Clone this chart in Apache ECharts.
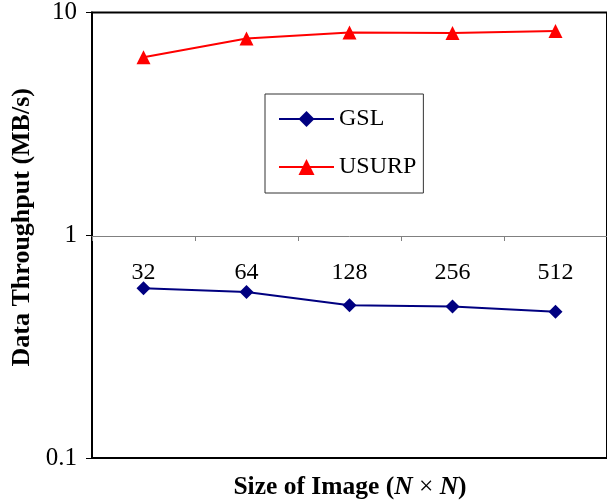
<!DOCTYPE html>
<html>
<head>
<meta charset="utf-8">
<style>html,body{margin:0;padding:0;background:#fff}#c{width:607px;height:503px}</style>
<script src="https://cdn.jsdelivr.net/npm/echarts@6/dist/echarts.min.js"></script>
</head>
<body>
<div id="c"></div>
<script>
const categories = ['32', '64', '128', '256', '512'];
const gslValues = [0.578, 0.556, 0.485, 0.479, 0.453];
const usurpValues = [6.3, 7.65, 8.13, 8.1, 8.26];
const yMin = 0.1, yMax = 10;

const serif = '"Liberation Serif", "Times New Roman", serif';
const chart = echarts.init(document.getElementById('c'), null, {renderer: 'canvas'});
chart.setOption({
  animation: false,
  backgroundColor: '#fff',
  title: {
    text: 'Size of Image ({i|N} {x|×} {i|N})',
    left: 350, top: 474, textAlign: 'center', padding: 0,
    textStyle: {
      fontFamily: serif, fontWeight: 'bold', fontSize: 25.5, color: '#000',
      rich: {
        i: { fontFamily: serif, fontWeight: 'bold', fontStyle: 'italic', fontSize: 25.5, color: '#000' },
        x: { fontFamily: serif, fontWeight: 'normal', fontSize: 25.5, color: '#000' }
      }
    }
  },
  legend: {
    orient: 'vertical', left: 265, top: 94,
    padding: [13, 7, 14, 13],
    itemGap: 24,
    itemWidth: 55, itemHeight: 20,
    backgroundColor: '#fff',
    borderColor: '#333', borderWidth: 1,
    textStyle: { fontFamily: serif, fontSize: 24, color: '#000' },
    data: ['GSL', 'USURP']
  },
  grid: { left: 92, right: -2, top: 12, bottom: 45, show: true, borderColor: '#000', borderWidth: 2, backgroundColor: 'transparent' },
  xAxis: {
    type: 'category', data: categories,
    position: 'bottom', offset: -222,
    boundaryGap: true,
    axisLine: { lineStyle: { color: '#808080', width: 1 } },
    axisTick: { show: true, length: 5, lineStyle: { color: '#808080' } },
    axisLabel: { margin: 25, fontFamily: serif, fontSize: 24, color: '#000' },
    splitLine: { show: false }
  },
  yAxis: {
    type: 'log', logBase: 10, min: yMin, max: yMax,
    name: 'Data Throughput (MB/s)', nameLocation: 'middle', nameGap: 56,
    nameTextStyle: { fontFamily: serif, fontWeight: 'bold', fontSize: 26, color: '#000', padding: [0, 0, 0, 16] },
    axisLine: { show: true, lineStyle: { color: '#000', width: 2 } },
    axisTick: { show: true, length: 6, lineStyle: { color: '#000' } },
    axisLabel: { margin: 15, fontFamily: serif, fontSize: 25, color: '#000',
      formatter: v => (v < 1 ? v.toFixed(1) : String(Math.round(v))) },
    minorTick: { show: false },
    splitLine: { show: false }
  },
  series: [
    { name: 'GSL', type: 'line', data: gslValues, symbol: 'diamond', symbolSize: 14,
      lineStyle: { color: '#000080', width: 2 }, itemStyle: { color: '#000080' } },
    { name: 'USURP', type: 'line', data: usurpValues, symbol: 'triangle', symbolSize: 14,
      lineStyle: { color: '#ff0000', width: 2 }, itemStyle: { color: '#ff0000' } }
  ]
});
</script>
</body>
</html>
